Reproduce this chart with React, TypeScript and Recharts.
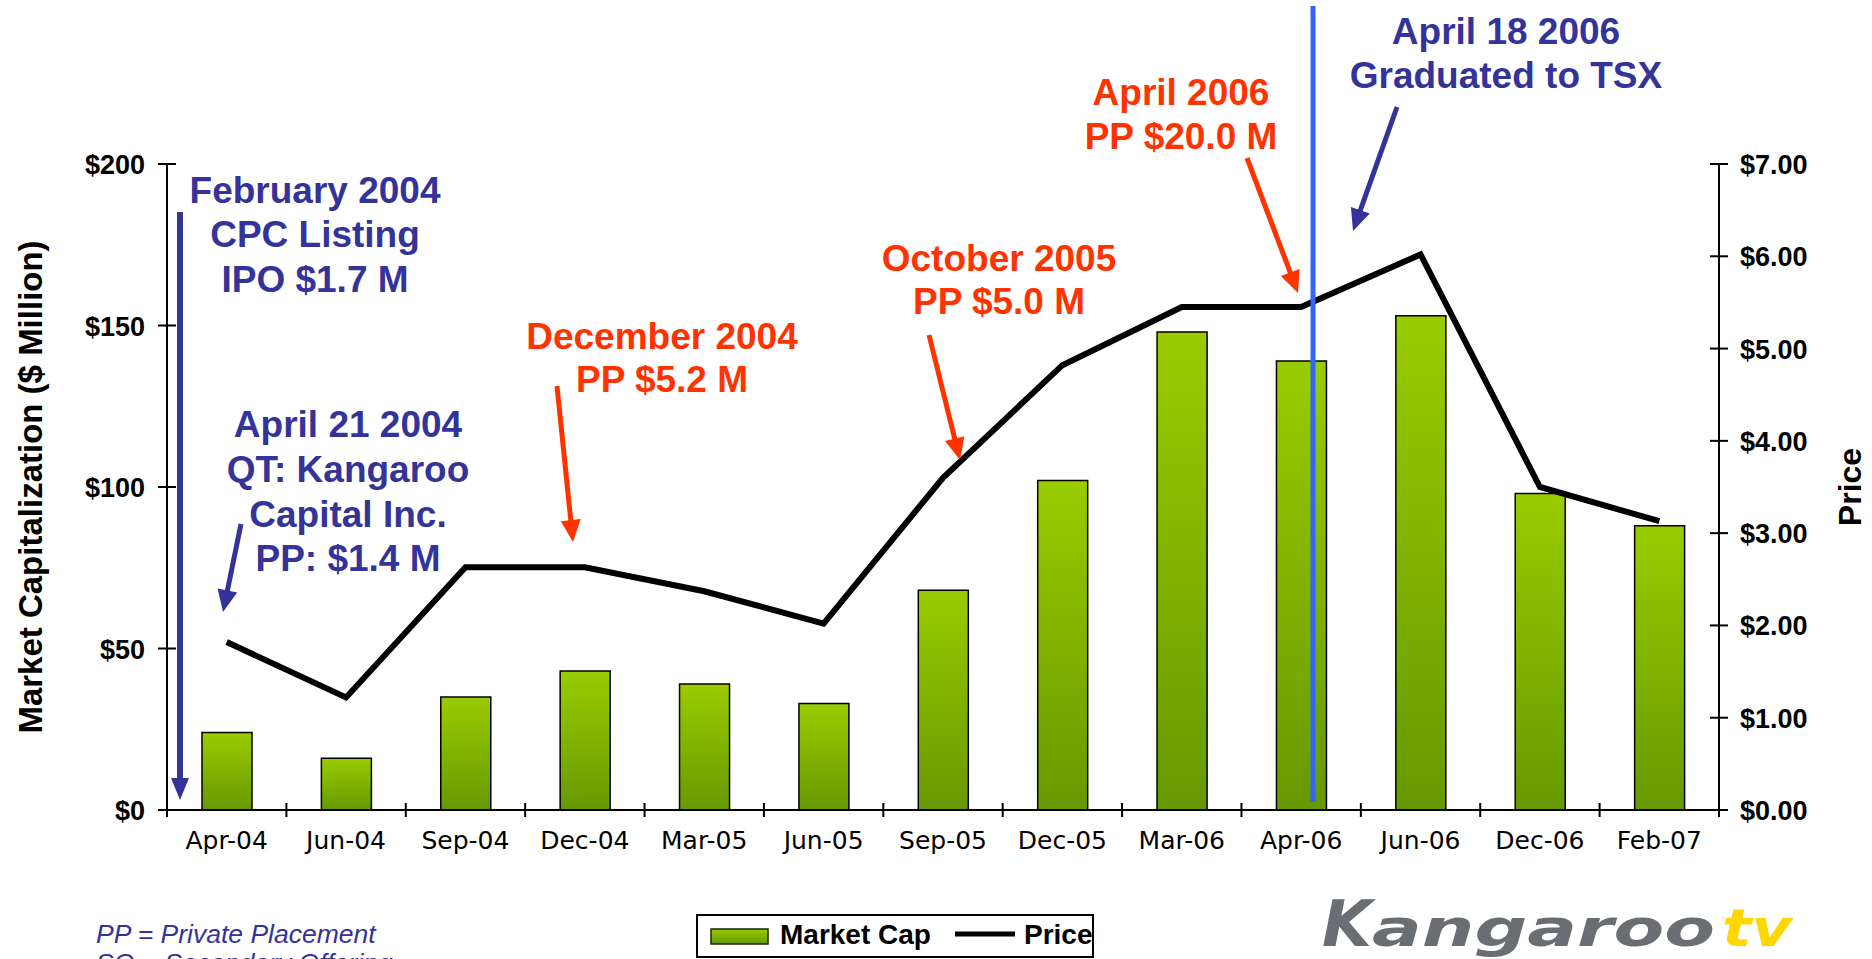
import React from 'react';
import { ComposedChart, Bar, Line, XAxis, YAxis } from 'recharts';

// ---------- data ----------
const categories = ['Apr-04', 'Jun-04', 'Sep-04', 'Dec-04', 'Mar-05', 'Jun-05', 'Sep-05', 'Dec-05', 'Mar-06', 'Apr-06', 'Jun-06', 'Dec-06', 'Feb-07'];
const marketCap = [24, 16, 35, 43, 39, 33, 68, 102, 148, 139, 153, 98, 88];
const price = [1.82, 1.22, 2.63, 2.63, 2.37, 2.02, 3.6, 4.82, 5.45, 5.45, 6.02, 3.5, 3.13];
const leftTicks = [0, 50, 100, 150, 200];
const rightTicks = [0, 1, 2, 3, 4, 5, 6, 7];

const data = categories.map((c, i) => ({ month: c, marketCap: marketCap[i], price: price[i] }));

// ---------- layout ----------
const W = 1872;
const H = 959;
const PL = 167;
const PR = 1719;
const PT = 164;
const PB = 810;
const AXW = 100;
const XAH = 60;
const BAND = (PR - PL) / categories.length;

const ARIAL = 'Liberation Sans, Arial, sans-serif';
const BLUE = '#333399';
const RED = '#ff3300';

const LeftTick = (props: any) => {
  const { y, payload } = props;
  return (
    <g>
      <line x1={PL - 9} x2={PL + 9} y1={y} y2={y} stroke="#000" strokeWidth={2} />
      <text x={PL - 22} y={y} dy={10} textAnchor="end" fontFamily={ARIAL} fontWeight="bold" fontSize={27} fill="#000">
        {'$' + payload.value}
      </text>
    </g>
  );
};

const RightTick = (props: any) => {
  const { y, payload } = props;
  return (
    <g>
      <line x1={PR - 9} x2={PR + 9} y1={y} y2={y} stroke="#000" strokeWidth={2} />
      <text x={PR + 21} y={y} dy={10} textAnchor="start" fontFamily={ARIAL} fontWeight="bold" fontSize={27} fill="#000">
        {'$' + Number(payload.value).toFixed(2)}
      </text>
    </g>
  );
};

const XTick = (props: any) => {
  const { x, payload } = props;
  const isLast = payload.value === categories[categories.length - 1];
  return (
    <g>
      <line x1={x - BAND / 2} x2={x - BAND / 2} y1={PB - 7} y2={PB + 7} stroke="#000" strokeWidth={2} />
      {isLast && <line x1={x + BAND / 2} x2={x + BAND / 2} y1={PB - 7} y2={PB + 7} stroke="#000" strokeWidth={2} />}
      <text x={x} y={849} textAnchor="middle" fontFamily="DejaVu Sans, sans-serif" fontSize={25} fill="#000">
        {payload.value}
      </text>
    </g>
  );
};

const Arrow = ({ x1, y1, x2, y2, color, w = 5, hl = 22, hw = 20 }: any) => {
  const dx = x2 - x1;
  const dy = y2 - y1;
  const L = Math.hypot(dx, dy);
  const ux = dx / L;
  const uy = dy / L;
  const bx = x2 - ux * hl;
  const by = y2 - uy * hl;
  const px = -uy;
  const py = ux;
  return (
    <g>
      <line x1={x1} y1={y1} x2={bx + ux * 2} y2={by + uy * 2} stroke={color} strokeWidth={w} />
      <polygon
        points={`${x2},${y2} ${bx + (px * hw) / 2},${by + (py * hw) / 2} ${bx - (px * hw) / 2},${by - (py * hw) / 2}`}
        fill={color}
      />
    </g>
  );
};

const Note = ({ cx, baselines, lines, color }: any) => (
  <text textAnchor="middle" fontFamily={ARIAL} fontWeight="bold" fontSize={37} fill={color}>
    {lines.map((l: string, i: number) => (
      <tspan key={i} x={cx} y={baselines[i]}>
        {l}
      </tspan>
    ))}
  </text>
);

export default function App() {
  return (
    <div style={{ position: 'relative', width: W, height: H, background: '#fff', overflow: 'hidden' }}>
      <style>{'body{margin:0;overflow:hidden;background:#fff}'}</style>
      <ComposedChart
        width={W}
        height={H}
        data={data}
        margin={{ top: PT, left: PL - AXW, right: W - PR - AXW, bottom: H - PB - XAH }}
      >
        <defs>
          <linearGradient id="barGrad" x1="0" y1="0" x2="0" y2="1">
            <stop offset="0%" stopColor="#99cc00" />
            <stop offset="100%" stopColor="#669900" />
          </linearGradient>
        </defs>
        <XAxis
          dataKey="month"
          height={XAH}
          interval={0}
          axisLine={{ stroke: '#000', strokeWidth: 2 }}
          tickLine={false}
          tick={<XTick />}
        />
        <YAxis
          yAxisId="left"
          width={AXW}
          domain={[0, 200]}
          ticks={leftTicks}
          axisLine={{ stroke: '#000', strokeWidth: 2 }}
          tickLine={false}
          tick={<LeftTick />}
        />
        <YAxis
          yAxisId="right"
          orientation="right"
          width={AXW}
          domain={[0, 7]}
          ticks={rightTicks}
          axisLine={{ stroke: '#000', strokeWidth: 2 }}
          tickLine={false}
          tick={<RightTick />}
        />
        <Bar
          yAxisId="left"
          dataKey="marketCap"
          barSize={50}
          fill="url(#barGrad)"
          stroke="#000"
          strokeWidth={1.5}
          isAnimationActive={false}
        />
        <Line
          yAxisId="right"
          dataKey="price"
          type="linear"
          stroke="#000"
          strokeWidth={6}
          strokeLinejoin="miter"
          dot={false}
          activeDot={false}
          isAnimationActive={false}
        />
      </ComposedChart>

      <svg width={W} height={H} style={{ position: 'absolute', left: 0, top: 0, pointerEvents: 'none' }}>
        <defs>
          <linearGradient id="legGrad" x1="0" y1="0" x2="0" y2="1">
            <stop offset="0%" stopColor="#99cc00" />
            <stop offset="100%" stopColor="#669900" />
          </linearGradient>
        </defs>
        {/* axis titles */}
        <text
          transform="translate(42,487) rotate(-90)"
          textAnchor="middle"
          fontFamily={ARIAL}
          fontWeight="bold"
          fontSize={33}
          fill="#000"
        >
          Market Capitalization ($ Million)
        </text>
        <text
          transform="translate(1861,487) rotate(-90)"
          textAnchor="middle"
          fontFamily={ARIAL}
          fontWeight="bold"
          fontSize={32}
          fill="#000"
        >
          Price
        </text>

        {/* TSX graduation line */}
        <line x1={1313} x2={1313} y1={6} y2={802} stroke="#3366ff" strokeWidth={5} />

        {/* annotations */}
        <Note cx={315} baselines={[203, 247, 292]} lines={['February 2004', 'CPC Listing', 'IPO $1.7 M']} color={BLUE} />
        <Arrow x1={180} y1={212} x2={180} y2={800} color={BLUE} w={6} hl={22} hw={18} />

        <Note
          cx={348}
          baselines={[437, 482, 527, 571]}
          lines={['April 21 2004', 'QT: Kangaroo', 'Capital Inc.', 'PP: $1.4 M']}
          color={BLUE}
        />
        <Arrow x1={241} y1={524} x2={223} y2={612} color={BLUE} />

        <Note cx={662} baselines={[349, 392]} lines={['December 2004', 'PP $5.2 M']} color={RED} />
        <Arrow x1={557} y1={386} x2={573} y2={542} color={RED} />

        <Note cx={999} baselines={[271, 314]} lines={['October 2005', 'PP $5.0 M']} color={RED} />
        <Arrow x1={929} y1={335} x2={960} y2={460} color={RED} />

        <Note cx={1181} baselines={[105, 149]} lines={['April 2006', 'PP $20.0 M']} color={RED} />
        <Arrow x1={1247} y1={158} x2={1298} y2={293} color={RED} />

        <Note cx={1506} baselines={[44, 88]} lines={['April 18 2006', 'Graduated to TSX']} color={BLUE} />
        <Arrow x1={1397} y1={107} x2={1353} y2={231} color={BLUE} />

        {/* legend */}
        <rect x={697} y={915} width={396} height={42} fill="#fff" stroke="#000" strokeWidth={2} />
        <rect x={711} y={929} width={57} height={15} fill="url(#legGrad)" stroke="#1a2600" strokeWidth={1.5} />
        <text x={780} y={944} fontFamily={ARIAL} fontWeight="bold" fontSize={28} fill="#000">
          Market Cap
        </text>
        <line x1={955} x2={1015} y1={934} y2={934} stroke="#000" strokeWidth={5} />
        <text x={1024} y={944} fontFamily={ARIAL} fontWeight="bold" fontSize={28} fill="#000">
          Price
        </text>

        {/* footnote */}
        <text fontFamily={ARIAL} fontStyle="italic" fontSize={26.5} fill={BLUE}>
          <tspan x={96} y={943}>PP = Private Placement</tspan>
          <tspan x={96} y={972}>SO = Secondary Offering</tspan>
        </text>

        {/* logo */}
        <text
          x={1322}
          y={946}
          fontFamily="DejaVu Sans, sans-serif"
          fontWeight="bold"
          fontStyle="italic"
          fontSize={64}
          fill="#6a6e72"
          textLength={50}
          lengthAdjust="spacingAndGlyphs"
        >
          K
        </text>
        <text
          x={1372}
          y={946}
          fontFamily="DejaVu Sans, sans-serif"
          fontWeight="bold"
          fontStyle="italic"
          fontSize={52}
          fill="#6a6e72"
          textLength={343}
          lengthAdjust="spacingAndGlyphs"
        >
          angaroo
        </text>
        <text
          x={1722}
          y={946}
          fontFamily="DejaVu Sans, sans-serif"
          fontWeight="bold"
          fontStyle="italic"
          fontSize={52}
          fill="#ffd700"
          textLength={70}
          lengthAdjust="spacingAndGlyphs"
        >
          tv
        </text>
      </svg>
    </div>
  );
}
